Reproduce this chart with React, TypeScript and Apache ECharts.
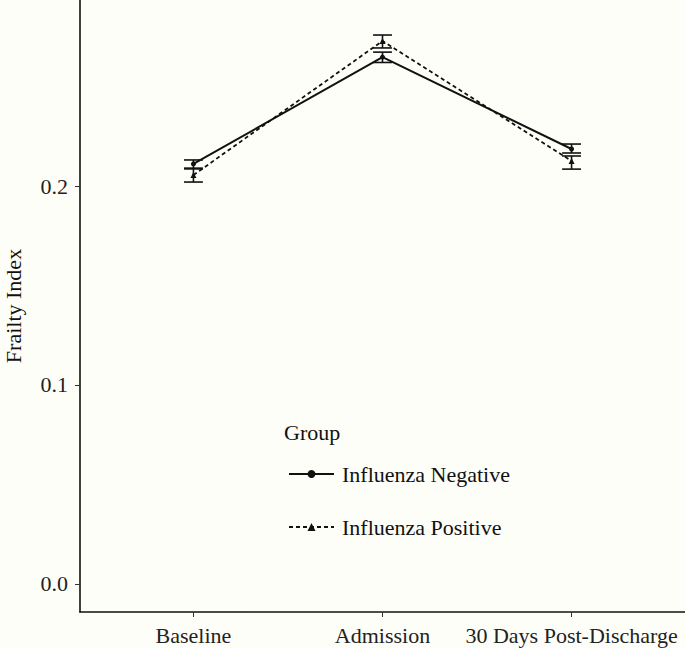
import React, { useEffect, useRef } from "react";
import * as echarts from "echarts";

const categories = ["Baseline", "Admission", "30 Days Post-Discharge"];
const yTicks = [0, 0.1, 0.2];

const negMean = [0.2111, 0.2648, 0.2186];
const negLow = [0.209, 0.2621, 0.2166];
const negHigh = [0.2131, 0.2673, 0.2211];

const posMean = [0.2055, 0.2729, 0.2126];
const posLow = [0.202, 0.2694, 0.2085];
const posHigh = [0.2086, 0.2759, 0.2151];

const FONT = "'Liberation Serif', 'DejaVu Serif', serif";
const INK = "#111111";

export default function App() {
  const ref = useRef<HTMLDivElement>(null);
  useEffect(() => {
    if (!ref.current) return;
    const chart = echarts.init(ref.current, undefined, { renderer: "svg" });
    const xs = categories.map((_, i) => i + 1);
    const errRender = (params: any, api: any) => {
      const x = api.value(0);
      const lo = api.coord([x, api.value(1)]);
      const hi = api.coord([x, api.value(2)]);
      const half = api.size([0.1, 0])[0] / 2;
      const style = { stroke: INK, lineWidth: 1.6 };
      return {
        type: "group",
        children: [
          { type: "line", shape: { x1: lo[0], y1: lo[1], x2: hi[0], y2: hi[1] }, style },
          { type: "line", shape: { x1: lo[0] - half, y1: lo[1], x2: lo[0] + half, y2: lo[1] }, style },
          { type: "line", shape: { x1: hi[0] - half, y1: hi[1], x2: hi[0] + half, y2: hi[1] }, style },
        ],
      };
    };
    chart.setOption({
      animation: false,
      backgroundColor: "#fefef9",
      grid: { left: 80, right: 0, top: 0, bottom: 36, containLabel: false, outerBoundsMode: "none" },
      title: {
        text: "Group",
        left: 284,
        top: 421,
        textStyle: { fontFamily: FONT, fontSize: 22, fontWeight: "normal", color: INK },
        padding: 0,
      },
      legend: {
        orient: "vertical",
        left: 288,
        top: 463,
        padding: 0,
        itemWidth: 45,
        itemHeight: 10,
        itemGap: 31,
        data: ["Influenza Negative", "Influenza Positive"],
        textStyle: { fontFamily: FONT, fontSize: 22, color: INK, padding: [0, 0, 0, 3] },
      },
      xAxis: {
        type: "value",
        min: 0.4,
        max: 3.6,
        splitLine: { show: false },
        axisLine: { show: true, onZero: false, lineStyle: { color: INK, width: 1.6 } },
        axisTick: { show: true, customValues: xs, length: 5, lineStyle: { color: "#333", width: 1 } },
        axisLabel: {
          customValues: xs,
          formatter: (v: number) => categories[Math.round(v) - 1] ?? "",
          fontFamily: FONT,
          fontSize: 22,
          color: "#222",
          margin: 12,
        },
      },
      yAxis: {
        type: "value",
        min: -0.0141,
        max: 0.2935,
        name: "Frailty Index",
        nameLocation: "middle",
        nameRotate: 90,
        nameGap: 56,
        nameTextStyle: { fontFamily: FONT, fontSize: 22, color: INK },
        splitLine: { show: false },
        axisLine: { show: true, onZero: false, lineStyle: { color: INK, width: 1.6 } },
        axisTick: { show: true, customValues: yTicks, length: 5, lineStyle: { color: "#333", width: 1 } },
        axisLabel: {
          customValues: yTicks,
          formatter: (v: number) => v.toFixed(1),
          fontFamily: FONT,
          fontSize: 22,
          color: "#222",
          margin: 12,
        },
      },
      series: [
        {
          name: "Influenza Negative",
          type: "line",
          data: xs.map((x, i) => [x, negMean[i]]),
          symbol: "circle",
          symbolSize: 5,
          lineStyle: { color: INK, width: 2, type: "solid" },
          itemStyle: { color: INK },
          z: 3,
        },
        {
          name: "Influenza Positive",
          type: "line",
          data: xs.map((x, i) => [x, posMean[i]]),
          symbol: "triangle",
          symbolSize: 6,
          lineStyle: { color: INK, width: 1.8, type: [4, 3] },
          itemStyle: { color: INK },
          z: 3,
        },
        {
          name: "negErr",
          type: "custom",
          renderItem: errRender,
          data: xs.map((x, i) => [x, negLow[i], negHigh[i]]),
          z: 2,
        },
        {
          name: "posErr",
          type: "custom",
          renderItem: errRender,
          data: xs.map((x, i) => [x, posLow[i], posHigh[i]]),
          z: 2,
        },
      ],
    });
    return () => chart.dispose();
  }, []);
  return (
    <div
      ref={ref}
      style={{ position: "fixed", left: 0, top: 0, width: 685, height: 648 }}
    />
  );
}
